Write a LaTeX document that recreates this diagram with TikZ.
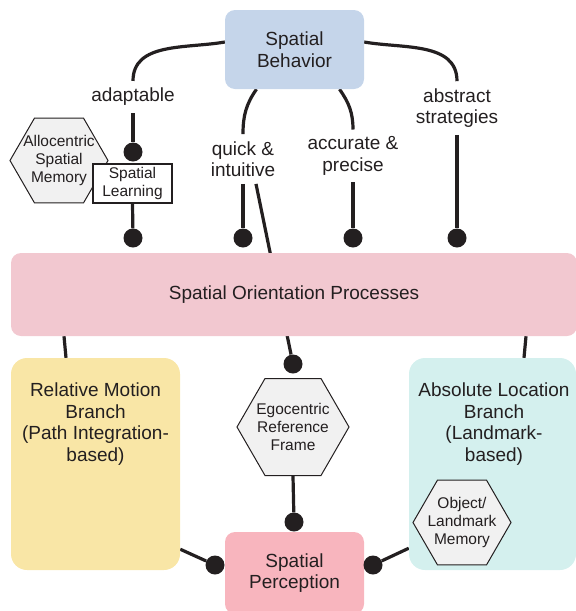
\documentclass[tikz,border=0pt]{standalone}
\usepackage{fontspec}
\setmainfont{Liberation Sans}
\usetikzlibrary{shapes.geometric}

\pgfdeclarelayer{back}
\pgfsetlayers{back,main}

\definecolor{ink}{HTML}{231F20}
\definecolor{behblue}{HTML}{C5D5EA}
\definecolor{procpink}{HTML}{F2C8D0}
\definecolor{relyellow}{HTML}{F9E6A6}
\definecolor{abscyan}{HTML}{D4F0EE}
\definecolor{percpink}{HTML}{F8B5BE}
\definecolor{hexgray}{HTML}{F1F1F1}

\begin{document}
\begin{tikzpicture}[x=1pt, y=-1pt,
    big/.style={font=\fontsize{19}{21.5}\selectfont, text=ink, align=center},
    small/.style={font=\fontsize{15.5}{18}\selectfont, text=ink, align=center},
    box/.style={rounded corners=10pt, inner sep=0pt},
    hexa/.style={regular polygon, regular polygon sides=6, draw=ink, line width=1pt, fill=hexgray, inner sep=0pt},
    dot/.style={circle, fill=ink, inner sep=0pt, minimum size=19pt},
    link/.style={draw=ink, line width=3.2pt},
    tag/.style={big, inner sep=7pt}]
  \useasboundingbox (0,0) rectangle (576,611);

  % Main boxes
  \node[box, fill=behblue, minimum width=139pt, minimum height=79pt, big] (beh) at (294.5,49.5) {Spatial\\Behavior};
  \node[box, fill=procpink, minimum width=566pt, minimum height=83pt, big] (proc) at (294,294.5) {Spatial Orientation Processes};
  \node[box, rounded corners=16pt, fill=relyellow, minimum width=169pt, minimum height=212pt] (rel) at (95.5,464) {};
  \node[big, anchor=north, inner sep=0pt] (reltext) at (95.5,383) {Relative Motion\\Branch\\(Path Integration-\\based)};
  \node[box, rounded corners=16pt, fill=abscyan, minimum width=167pt, minimum height=212pt] (abs) at (492.5,464) {};
  \node[big, anchor=north, inner sep=0pt] (abstext) at (494,383) {Absolute Location\\Branch\\(Landmark-\\based)};
  \node[box, fill=percpink, minimum width=139pt, minimum height=82pt, big] (perc) at (294.5,573) {Spatial\\Perception};

  % Memories and frames
  \node[hexa, minimum size=98pt] (allo) at (59,160.5) {};
  \node[small] (allotext) at (allo) {Allocentric\\Spatial\\Memory};
  \node[draw=ink, line width=1.2pt, fill=white, minimum width=79pt, minimum height=39pt, inner sep=0pt, small] (learn) at (132.5,183.5) {Spatial\\Learning};
  \node[hexa, minimum size=112pt] (ego) at (293,427) {};
  \node[small] (egotext) at (ego) {Egocentric\\Reference\\Frame};
  \node[hexa, minimum size=98pt] (obj) at (462,522.5) {};
  \node[small] (objtext) at (obj) {Object/\\Landmark\\Memory};

  % Labels
  \node[tag] (adapt) at (133,97) {adaptable};
  \node[tag] (quick) at (243,159) {quick \&\\intuitive};
  \node[tag] (accur) at (353,156) {accurate \&\\precise};
  \node[tag] (abstr) at (457,108) {abstract\\strategies};

  % Dots
  \node[dot] (d1) at (133,152) {};
  \node[dot] (d2) at (133,238) {};
  \node[dot] (d3) at (243,238) {};
  \node[dot] (d4) at (353,238) {};
  \node[dot] (d5) at (457,238) {};
  \node[dot] (dego) at (293,364) {};
  \node[dot] (dtop) at (294,522) {};
  \node[dot] (dleft) at (215,565) {};
  \node[dot] (dright) at (373,565) {};

  % Connectors
  \begin{pgfonlayer}{back}
    \draw[link] ([yshift=7.5pt]beh.west) to[out=190, in=90] (adapt.north);
    \draw[link] (adapt.south) -- (d1);
    \draw[link] (learn.south) -- (d2);
    \draw[link] ([xshift=-38pt]beh.south) to[out=-125, in=90] (quick.north);
    \draw[link] (quick.south) -- (d3);
    \draw[link] ([xshift=13pt]quick.south) -- (dego);
    \draw[link] ([xshift=45pt]beh.south) to[out=-55, in=90] (accur.north);
    \draw[link] (accur.south) -- (d4);
    \draw[link] ([yshift=7.5pt]beh.east) to[out=-10, in=90] (abstr.north);
    \draw[link] (abstr.south) -- (d5);
    \draw[link] (proc.south -| 64,0) -- (rel.north -| 66,0);
    \draw[link] (proc.south -| 526,0) -- (abs.north -| 524,0);
    \draw[link] (ego.south) -- (dtop);
    \draw[link] ([yshift=21pt]rel.south east) -- (dleft);
    \draw[link] ([yshift=22pt]abs.south west) -- (dright);
  \end{pgfonlayer}
\end{tikzpicture}
\end{document}
